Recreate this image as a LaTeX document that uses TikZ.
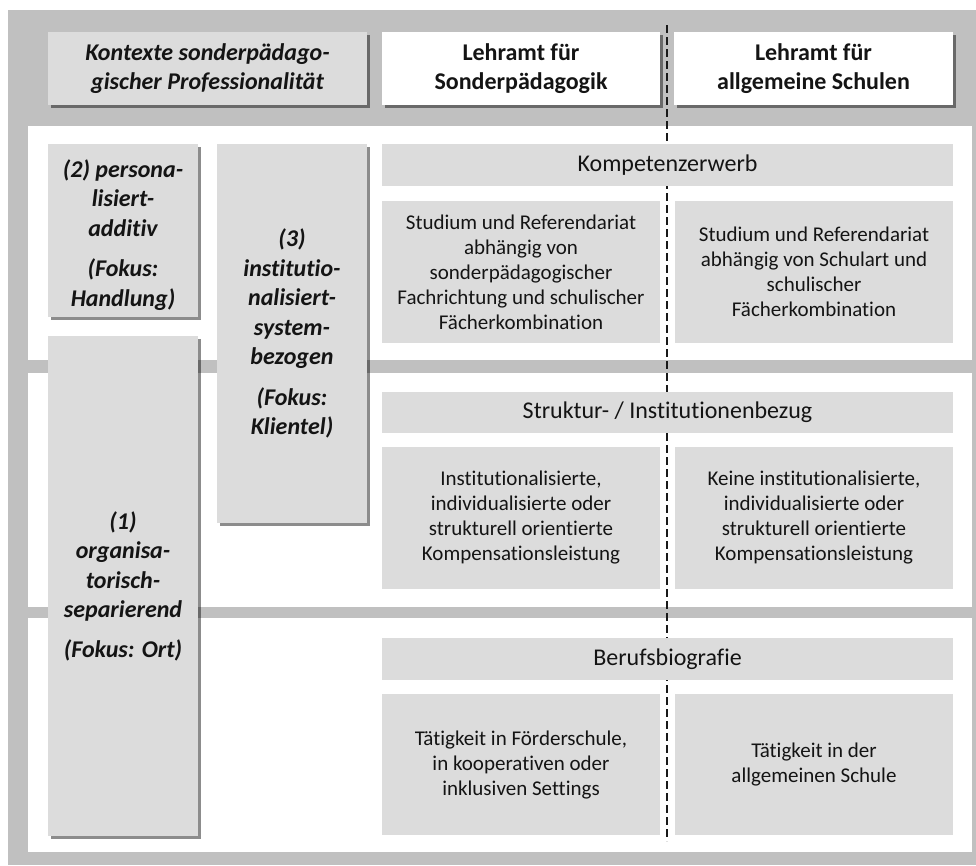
\documentclass[tikz,border=0pt]{standalone}
\usepackage{fontspec}
\setmainfont{Carlito}[Ligatures={NoCommon}]
\usetikzlibrary{shadows}
\definecolor{outergray}{RGB}{192,192,192}
\definecolor{boxgray}{RGB}{220,220,220}
\definecolor{txt}{RGB}{20,20,20}
\tikzset{
  shad/.style={drop shadow={shadow xshift=3pt, shadow yshift=-3pt, fill=black, opacity=0.45}},
  hdrbox/.style={shad, fill=white, draw=none, inner sep=0pt, align=center, text=txt,
    font=\bfseries\fontsize{24}{29}\selectfont},
  ctxbox/.style={shad, fill=boxgray, draw=none, inner sep=0pt, align=center, text=txt,
    font=\bfseries\itshape\fontsize{24}{29.5}\selectfont},
  ctxtext/.style={inner sep=0pt, align=center, text=txt,
    font=\bfseries\itshape\fontsize{24}{29.5}\selectfont},
  barbox/.style={fill=boxgray, draw=none, inner sep=0pt, align=center, text=txt,
    font=\fontsize{24}{29}\selectfont},
  cellbox/.style={fill=boxgray, draw=none, inner sep=0pt, align=center, text=txt,
    font=\fontsize{21}{25}\selectfont},
  divider/.style={draw=black!90, line width=1.8pt, dash pattern=on 8pt off 4pt},
  panel/.style={fill=white, draw=none}
}
\begin{document}
\begin{tikzpicture}[x=1pt,y=-1pt]
\useasboundingbox (0,0) rectangle (976,865);
% background
\fill[outergray] (8,10) rectangle (976,865);
\path[panel] (28,126) rectangle (972,360);
\path[panel] (28,373) rectangle (972,607);
\path[panel] (28,618) rectangle (972,852);
% divider
\coordinate (dtop) at (667,25);
\coordinate (dbot) at (667,841);
\draw[divider] (dtop) -- (dbot);
% headers
\node[ctxbox, minimum width=319pt, minimum height=73pt] (ctx) at (207.5,68.5)
  {Kontexte sonderpädago-\\gischer Professionalität};
\node[hdrbox, minimum width=278pt, minimum height=73pt] (lsp) at (521,68.5)
  {Lehramt für\\Sonderpädagogik};
\node[hdrbox, minimum width=279pt, minimum height=73pt] (las) at (813.5,68.5)
  {Lehramt für\\allgemeine Schulen};
% left context boxes
\node[ctxbox, minimum width=150pt, minimum height=173pt] (b2) at (123,230.5) {};
\node[ctxtext] (b2t) at (123,235)
  {(2) persona-\\lisiert-\\additiv\\[11pt](Fokus:\\Handlung)};
\node[ctxbox, minimum width=150pt, minimum height=379pt] (b3) at (292,333.5)
  {(3)\\institutio-\\nalisiert-\\system-\\bezogen\\[11pt](Fokus:\\Klientel)};
\node[ctxbox, minimum width=150pt, minimum height=500pt] (b1) at (123,586)
  {(1)\\organisa-\\torisch-\\separierend\\[10pt](Fokus: Ort)};
% row 1
\node[barbox, minimum width=571pt, minimum height=42pt] (bar1) at (667.5,165) {Kompetenzerwerb};
\node[cellbox, minimum width=278pt, minimum height=142pt] (c1l) at (521,272)
  {Studium und Referendariat\\abhängig von\\sonderpädagogischer\\Fachrichtung und schulischer\\Fächerkombination};
\node[cellbox, minimum width=278pt, minimum height=142pt] (c1r) at (814,272)
  {Studium und Referendariat\\abhängig von Schulart und\\schulischer\\Fächerkombination};
% row 2
\node[barbox, minimum width=571pt, minimum height=41pt] (bar2) at (667.5,412.5) {Struktur- / Institutionenbezug};
\node[cellbox, minimum width=278pt, minimum height=142pt] (c2l) at (521,518)
  {Institutionalisierte,\\individualisierte oder\\strukturell orientierte\\Kompensationsleistung};
\node[cellbox, minimum width=278pt, minimum height=142pt] (c2r) at (814,518)
  {Keine institutionalisierte,\\individualisierte oder\\strukturell orientierte\\Kompensationsleistung};
% row 3
\node[barbox, minimum width=571pt, minimum height=42pt] (bar3) at (667.5,659) {Berufsbiografie};
\node[cellbox, minimum width=278pt, minimum height=141pt] (c3l) at (521,764.5)
  {Tätigkeit in Förderschule,\\in kooperativen oder\\inklusiven Settings};
\node[cellbox, minimum width=278pt, minimum height=141pt] (c3r) at (814,764.5)
  {Tätigkeit in der\\allgemeinen Schule};
\end{tikzpicture}
\end{document}
